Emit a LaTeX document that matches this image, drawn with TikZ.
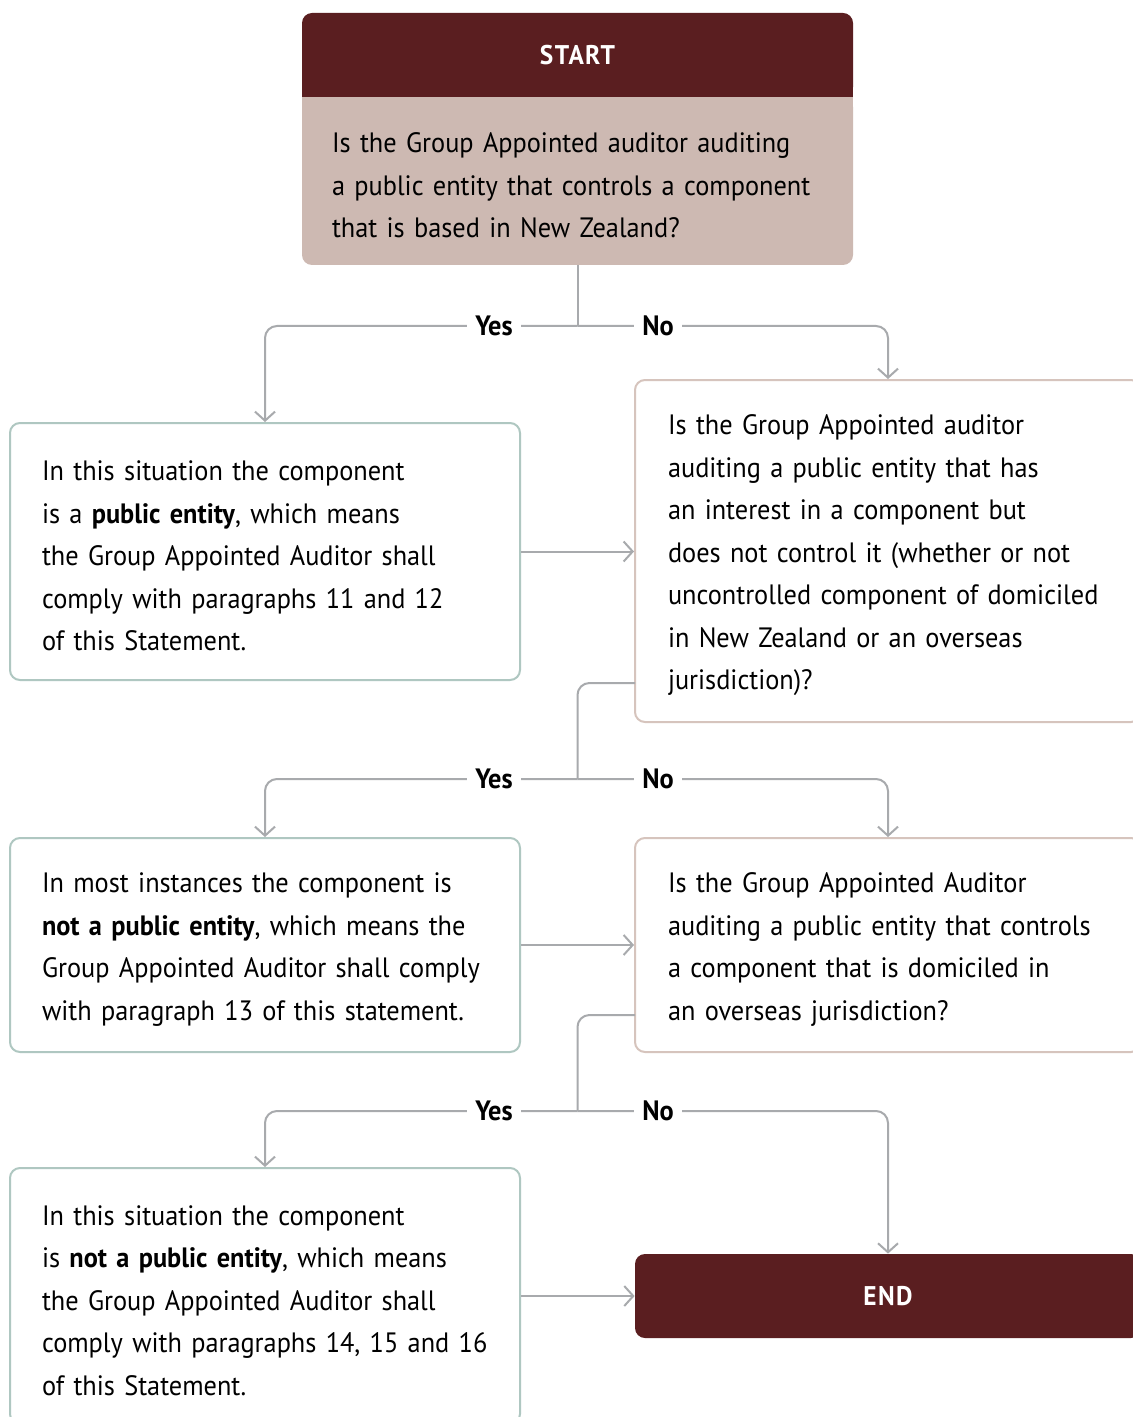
\documentclass[tikz,border=0pt]{standalone}
\usepackage{fontspec}
\setmainfont{PT Sans}[FakeStretch=0.94]
\usetikzlibrary{arrows.meta,calc}
\definecolor{darkred}{HTML}{5A1E20}
\definecolor{qbody}{HTML}{CDB9B2}
\definecolor{greenb}{HTML}{AFC7C1}
\definecolor{pinkb}{HTML}{D6C4BD}
\definecolor{conn}{HTML}{A8AAAD}
\begin{document}
\begin{tikzpicture}[x=0.5pt,y=-0.5pt,
  bodyfont/.style={font=\fontsize{14}{21.25}\selectfont, execute at begin node={\rule{0pt}{14.5pt}}},
  headbox/.style={fill=darkred, rounded corners=5pt, minimum width=275.5pt, minimum height=42pt, inner sep=0pt, text=white, font=\fontsize{13.5}{16}\selectfont\bfseries\addfontfeature{LetterSpace=5}},
  qstart/.style={fill=qbody, rounded corners=5pt, text width=245.5pt, inner xsep=15pt, inner ysep=0pt, minimum height=84pt, align=left, bodyfont},
  ansbox/.style={draw=greenb, line width=1pt, fill=white, rounded corners=5pt, text width=223pt, inner xsep=16pt, inner ysep=0pt, align=left, bodyfont},
  quesbox/.style={draw=pinkb, line width=1pt, fill=white, rounded corners=5pt, text width=220pt, inner xsep=16.5pt, inner ysep=0pt, align=left, bodyfont},
  connline/.style={draw=conn, line width=1pt, rounded corners=6pt},
  arrowc/.style={connline, -{Straight Barb[length=4.5pt,width=10pt,line width=1pt]}},
  lbl/.style={fill=white, inner xsep=4pt, inner ysep=2pt, font=\fontsize{14}{18}\selectfont\bfseries}
]
\useasboundingbox (0,0) rectangle (1133,1417);
\clip (0,0) rectangle (1133,1417);
\fill[white] (0,0) rectangle (1133,1417);

% start block
\node[qstart] (q1) at (577.5,181) {Is the Group Appointed auditor auditing\\ a public entity that controls a component\\ that is based in New Zealand?};
\node[headbox] (start) at (577.5,55) {START};
\fill[darkred] ($(start.south west)+(0,-12)$) rectangle (start.south east);
\fill[qbody] (q1.north west) rectangle ($(q1.north east)+(0,12)$);

% boxes
\node[ansbox, minimum height=128.5pt] (boxA) at (265,551.5) {In this situation the component\\ is a \textbf{public entity}, which means\\ the Group Appointed Auditor shall\\ comply with paragraphs 11 and 12\\ of this Statement.};
\node[quesbox, minimum height=171pt] (boxB) at (888,551) {Is the Group Appointed auditor\\ auditing a public entity that has\\ an interest in a component but\\ does not control it (whether or not\\ uncontrolled component of domiciled\\ in New Zealand or an overseas\\ jurisdiction)?};
\node[ansbox, minimum height=107pt] (boxC) at (265,945) {In most instances the component is\\ \textbf{not a public entity}, which means the\\ Group Appointed Auditor shall comply\\ with paragraph 13 of this statement.};
\node[quesbox, minimum height=107pt] (boxD) at (888,945) {Is the Group Appointed Auditor\\ auditing a public entity that controls\\ a component that is domiciled in\\ an overseas jurisdiction?};
\node[ansbox, minimum height=128pt] (boxE) at (265,1296) {In this situation the component\\ is \textbf{not a public entity}, which means\\ the Group Appointed Auditor shall\\ comply with paragraphs 14, 15 and 16\\ of this Statement.};
\node[headbox, minimum width=253pt] (endn) at (888,1296) {END};

% junctions
\coordinate (j1) at (577.5,326);
\coordinate (b1) at (635,683);
\coordinate (j2) at (577.5,779);
\coordinate (d1) at (635,1015);
\coordinate (j3) at (577.5,1111);

% connectors
\draw[connline] (q1.south) -- (j1);
\draw[arrowc] (j1) -| (boxA.north);
\draw[arrowc] (j1) -| (boxB.north);
\draw[arrowc] (boxA.east) -- (boxA.east -| boxB.west);
\draw[connline] (b1) -| (j2);
\draw[arrowc] (j2) -| (boxC.north);
\draw[arrowc] (j2) -| (boxD.north);
\draw[arrowc] (boxC.east) -- (boxC.east -| boxD.west);
\draw[connline] (d1) -| (j3);
\draw[arrowc] (j3) -| (boxE.north);
\draw[arrowc] (j3) -| (endn.north);
\draw[arrowc] (boxE.east) -- (boxE.east -| endn.west);

% labels
\node[lbl] (y1) at (494,326) {Yes};
\node[lbl] (n1) at (658,326) {No};
\node[lbl] (y2) at (494,779) {Yes};
\node[lbl] (n2) at (658,779) {No};
\node[lbl] (y3) at (494,1111) {Yes};
\node[lbl] (n3) at (658,1111) {No};
\end{tikzpicture}
\end{document}
